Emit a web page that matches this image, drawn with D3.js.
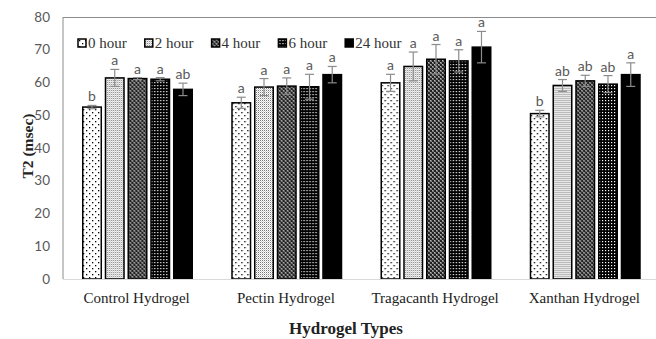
<!DOCTYPE html>
<meta charset="utf-8">
<script src="https://d3js.org/d3.v7.min.js"></script>
<style>
  body { margin: 0; background: #fff; }
</style>
<div id="my_dataviz"></div>
<script>
  // data
  var groups = ["Control Hydrogel", "Pectin Hydrogel", "Tragacanth Hydrogel", "Xanthan Hydrogel"];
  var series = ["0 hour", "2 hour", "4 hour", "6 hour", "24 hour"];
  var means = [
    [52.5, 61.4, 61.2, 61.0, 57.9],
    [53.8, 58.6, 58.9, 58.7, 62.4],
    [59.9, 64.9, 67.1, 66.6, 70.8],
    [50.5, 59.1, 60.5, 59.5, 62.4]
  ];
  var errs = [
    [0.5, 2.6, 0.3, 0.5, 1.9],
    [1.7, 2.6, 2.5, 3.8, 2.5],
    [2.6, 4.4, 4.5, 3.4, 4.8],
    [1.0, 1.8, 1.7, 2.6, 3.6]
  ];
  var letters = [
    ["b", "a", "a", "a", "ab"],
    ["a", "a", "a", "a", "a"],
    ["a", "a", "a", "a", "a"],
    ["b", "ab", "ab", "ab", "a"]
  ];
  var yTicks = [0, 10, 20, 30, 40, 50, 60, 70, 80];

  var width = 656, height = 339;
  var plotLeft = 63, plotRight = 660, plotTop = 17, plotBottom = 279;

  var svg = d3.select("#my_dataviz")
    .append("svg")
    .attr("width", width)
    .attr("height", height);

  // fill patterns for the bars
  var defs = svg.append("defs");
  function pattern(id, size, bg, dots, dotColor) {
    var p = defs.append("pattern")
      .attr("id", id)
      .attr("patternUnits", "userSpaceOnUse")
      .attr("width", size).attr("height", size);
    p.append("rect").attr("width", size).attr("height", size).attr("fill", bg);
    dots.forEach(function (d) {
      p.append("rect").attr("x", d[0]).attr("y", d[1])
        .attr("width", d[2] || 1).attr("height", d[2] || 1).attr("fill", dotColor);
    });
  }
  pattern("p0", 6, "#fff", [[1, 1, 1.3], [4, 4, 1.3]], "#000");
  pattern("p1", 2, "#fff", [[0, 0, 1], [1, 1, 0.6]], "#777");
  pattern("p2", 4, "#222", [[0, 0, 1.5], [2, 2, 1.5], [1, 1, 0.7], [3, 3, 0.7]], "#bbb");
  pattern("p3", 3, "#000", [[1, 1, 1.2]], "#fff");
  pattern("p4", 4, "#000", [], "#000");
  var fills = ["url(#p0)", "url(#p1)", "url(#p2)", "url(#p3)", "url(#p4)"];

  var x0 = d3.scaleBand().domain(groups).range([plotLeft, plotRight]);
  var x1 = d3.scaleBand().domain(series).range([19, 130]).paddingInner(0.12);
  var y = d3.scaleLinear().domain([0, 80]).range([plotBottom, plotTop]);

  // plot frame
  svg.append("line").attr("x1", plotLeft).attr("x2", plotLeft).attr("y1", plotTop).attr("y2", plotBottom)
    .attr("stroke", "#8c8c8c");
  svg.append("line").attr("x1", plotLeft).attr("x2", width).attr("y1", plotTop + 0.5).attr("y2", plotTop + 0.5)
    .attr("stroke", "#8c8c8c");

  // y axis labels
  svg.append("g").selectAll("text")
    .data(yTicks).enter().append("text")
    .attr("x", 50)
    .attr("y", function (d) { return y(d); })
    .attr("dy", "0.35em")
    .attr("text-anchor", "end")
    .style("font-family", "Lato, 'Liberation Sans', sans-serif")
    .style("font-size", "13.5px")
    .attr("fill", "#595959")
    .text(function (d) { return d; });

  svg.append("text")
    .attr("transform", "translate(33," + 146 + ") rotate(-90)")
    .attr("text-anchor", "middle")
    .style("font-family", "'Liberation Serif', serif")
    .style("font-weight", "bold")
    .style("font-size", "15.5px")
    .attr("fill", "#222")
    .text("T2 (msec)");

  // bars
  var rows = [];
  groups.forEach(function (g, gi) {
    series.forEach(function (s, si) {
      rows.push({ g: g, s: s, si: si, v: means[gi][si], e: errs[gi][si], l: letters[gi][si] });
    });
  });

  var bars = svg.append("g").selectAll("g")
    .data(rows).enter().append("g")
    .attr("transform", function (d) { return "translate(" + (x0(d.g) + x1(d.s)) + ",0)"; });

  bars.append("rect")
    .attr("x", 0.75)
    .attr("y", function (d) { return y(d.v); })
    .attr("width", x1.bandwidth() - 1.5)
    .attr("height", function (d) { return y(0) - y(d.v); })
    .attr("fill", function (d) { return fills[d.si]; })
    .attr("stroke", "#000")
    .attr("stroke-width", 1.5);

  // baseline
  svg.append("line").attr("x1", plotLeft).attr("x2", width).attr("y1", plotBottom + 0.5).attr("y2", plotBottom + 0.5)
    .attr("stroke", "#d9d9d9");

  // error bars
  var bw = x1.bandwidth();
  bars.append("line")
    .attr("x1", bw / 2).attr("x2", bw / 2)
    .attr("y1", function (d) { return y(d.v - d.e); })
    .attr("y2", function (d) { return y(d.v + d.e); })
    .attr("stroke", "#8c8c8c").attr("stroke-width", 1.2);
  [1, -1].forEach(function (sgn) {
    bars.append("line")
      .attr("x1", bw / 2 - 4.5).attr("x2", bw / 2 + 4.5)
      .attr("y1", function (d) { return y(d.v + sgn * d.e); })
      .attr("y2", function (d) { return y(d.v + sgn * d.e); })
      .attr("stroke", "#8c8c8c").attr("stroke-width", 1.2);
  });

  // significance letters
  bars.append("text")
    .attr("x", bw / 2)
    .attr("y", function (d) { return y(d.v + d.e) - 4; })
    .attr("text-anchor", "middle")
    .style("font-family", "Lato, 'Liberation Sans', sans-serif")
    .style("font-size", "14px")
    .attr("fill", "#595959")
    .text(function (d) { return d.l; });

  // x labels
  svg.append("g").selectAll("text")
    .data(groups).enter().append("text")
    .attr("x", function (d) { return x0(d) + x0.bandwidth() / 2 - 1; })
    .attr("y", 303)
    .attr("text-anchor", "middle")
    .style("font-family", "'Liberation Serif', serif")
    .style("font-size", "15px")
    .attr("fill", "#222")
    .text(function (d) { return d; });

  svg.append("text")
    .attr("x", 346).attr("y", 334)
    .attr("text-anchor", "middle")
    .style("font-family", "'Liberation Serif', serif")
    .style("font-weight", "bold")
    .style("font-size", "17px")
    .attr("fill", "#222")
    .text("Hydrogel Types");

  // legend
  var legend = svg.append("g").selectAll("g")
    .data(series).enter().append("g")
    .attr("transform", function (d, i) { return "translate(" + (78 + i * 66.8) + ",39)"; });
  legend.append("rect")
    .attr("width", 8).attr("height", 8)
    .attr("fill", function (d, i) { return fills[i]; })
    .attr("stroke", "#000").attr("stroke-width", 1.5);
  legend.append("text")
    .attr("x", 10).attr("y", 9)
    .style("font-family", "'Liberation Serif', serif")
    .style("font-size", "15px")
    .attr("fill", "#333")
    .text(function (d) { return d; });
</script>
